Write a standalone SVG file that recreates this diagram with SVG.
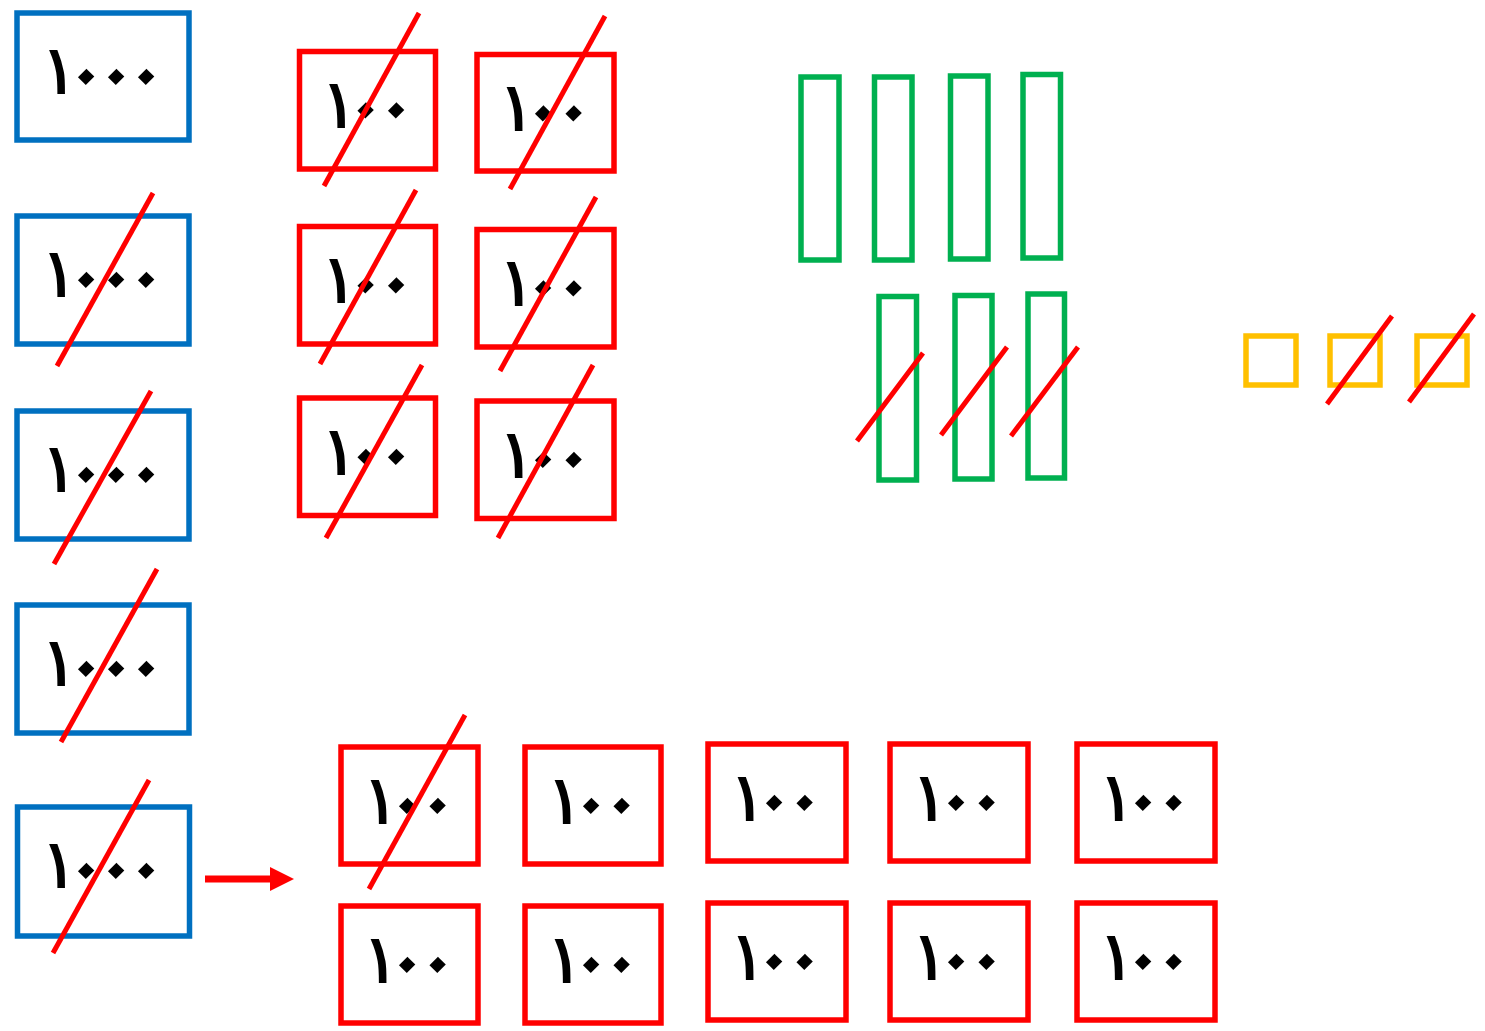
<svg xmlns="http://www.w3.org/2000/svg" width="1485" height="1031" viewBox="0 0 1485 1031">
<style>
.blue{fill:none;stroke:#0070C0;stroke-width:5.5}
.red{fill:none;stroke:#FF0000;stroke-width:5.5}
.green{fill:none;stroke:#00B050;stroke-width:5.5}
.yellow{fill:none;stroke:#FFC000;stroke-width:5.5}
.strike{stroke:#FF0000;stroke-width:5;fill:none}
.num{font-family:"DejaVu Sans",sans-serif;font-size:66px;fill:#000;stroke:#000;stroke-width:1.8;stroke-linejoin:miter}
.num tspan{stroke-width:4}
</style>
<rect width="1485" height="1031" fill="#fff"/>
<g id="thousands">
<g id="th1"><rect class="blue" x="17" y="13" width="172" height="127"/><text class="num" x="41.5 60.6 90.6 120.6" y="93 77.5 77.5 77.5" rotate="0 45 45 45">١<tspan>٠٠٠</tspan></text></g>
<g id="th2"><rect class="blue" x="17" y="216" width="172" height="128"/><text class="num" x="41.5 60.6 90.6 120.6" y="296 280.5 280.5 280.5" rotate="0 45 45 45">١<tspan>٠٠٠</tspan></text><line class="strike" x1="57" y1="366" x2="153" y2="193"/></g>
<g id="th3"><rect class="blue" x="17" y="411" width="172" height="128"/><text class="num" x="41.5 60.6 90.6 120.6" y="491 475.5 475.5 475.5" rotate="0 45 45 45">١<tspan>٠٠٠</tspan></text><line class="strike" x1="54" y1="564" x2="151" y2="391"/></g>
<g id="th4"><rect class="blue" x="17" y="605" width="172" height="128"/><text class="num" x="41.5 60.6 90.6 120.6" y="685 669.5 669.5 669.5" rotate="0 45 45 45">١<tspan>٠٠٠</tspan></text><line class="strike" x1="61" y1="742" x2="157" y2="569"/></g>
<g id="th5"><rect class="blue" x="17.5" y="807" width="172" height="129"/><text class="num" x="41.5 60.6 90.6 120.6" y="887 871.5 871.5 871.5" rotate="0 45 45 45">١<tspan>٠٠٠</tspan></text><line class="strike" x1="53" y1="953" x2="149" y2="780"/></g>
</g>
<g id="hundreds-top">
<g id="h1"><rect class="red" x="299.5" y="51.5" width="136" height="117.5"/><text class="num" x="321.5 340.1 370.6" y="127 111 111" rotate="0 45 45">١<tspan>٠٠</tspan></text><line class="strike" x1="324" y1="186" x2="419" y2="13"/></g>
<g id="h2"><rect class="red" x="477" y="54.5" width="137" height="116.5"/><text class="num" x="499 517.6 548.1" y="130 114 114" rotate="0 45 45">١<tspan>٠٠</tspan></text><line class="strike" x1="510" y1="189" x2="605" y2="16"/></g>
<g id="h3"><rect class="red" x="299.5" y="226.5" width="136" height="117.5"/><text class="num" x="321.5 340.1 370.6" y="302 286 286" rotate="0 45 45">١<tspan>٠٠</tspan></text><line class="strike" x1="320" y1="364" x2="416" y2="190"/></g>
<g id="h4"><rect class="red" x="477" y="229.5" width="137" height="117.5"/><text class="num" x="499 517.6 548.1" y="305 289 289" rotate="0 45 45">١<tspan>٠٠</tspan></text><line class="strike" x1="500" y1="371" x2="596" y2="197"/></g>
<g id="h5"><rect class="red" x="299.5" y="398" width="136" height="117.5"/><text class="num" x="321.5 340.1 370.6" y="473.5 457.5 457.5" rotate="0 45 45">١<tspan>٠٠</tspan></text><line class="strike" x1="326" y1="538" x2="422" y2="365"/></g>
<g id="h6"><rect class="red" x="477" y="401" width="137" height="117.5"/><text class="num" x="499 517.6 548.1" y="476.5 460.5 460.5" rotate="0 45 45">١<tspan>٠٠</tspan></text><line class="strike" x1="498" y1="538" x2="593" y2="365"/></g>
</g>
<g id="tens">
<g id="t1"><rect class="green" x="801" y="77" width="38" height="183"/></g>
<g id="t2"><rect class="green" x="874.5" y="77" width="37.5" height="183"/></g>
<g id="t3"><rect class="green" x="950.5" y="76" width="37.5" height="183"/></g>
<g id="t4"><rect class="green" x="1023" y="74.5" width="37.5" height="183.5"/></g>
<g id="t5"><rect class="green" x="879" y="296.5" width="37.5" height="183.5"/><line class="strike" x1="857" y1="441" x2="923" y2="353"/></g>
<g id="t6"><rect class="green" x="955" y="295.5" width="37" height="183.5"/><line class="strike" x1="941" y1="435" x2="1007" y2="347"/></g>
<g id="t7"><rect class="green" x="1028" y="294" width="36.5" height="184"/><line class="strike" x1="1011" y1="436" x2="1078" y2="347"/></g>
</g>
<g id="ones">
<g id="o1"><rect class="yellow" x="1246" y="336" width="50" height="49"/></g>
<g id="o2"><rect class="yellow" x="1330" y="336" width="50" height="49"/><line class="strike" x1="1327" y1="404" x2="1392" y2="316"/></g>
<g id="o3"><rect class="yellow" x="1417" y="336" width="50" height="49"/><line class="strike" x1="1409" y1="402" x2="1474" y2="314"/></g>
</g>
<g id="hundreds-bottom">
<g id="hb1"><rect class="red" x="341" y="747" width="137" height="117"/><text class="num" x="363 381.6 412.1" y="822.5 806.5 806.5" rotate="0 45 45">١<tspan>٠٠</tspan></text><line class="strike" x1="369" y1="889" x2="465" y2="715"/></g>
<g id="hb2"><rect class="red" x="525" y="747" width="136" height="117"/><text class="num" x="547 565.6 596.1" y="822.5 806.5 806.5" rotate="0 45 45">١<tspan>٠٠</tspan></text></g>
<g id="hb3"><rect class="red" x="708" y="744" width="138" height="117"/><text class="num" x="730 748.6 779.1" y="819.5 803.5 803.5" rotate="0 45 45">١<tspan>٠٠</tspan></text></g>
<g id="hb4"><rect class="red" x="890" y="744" width="138" height="117"/><text class="num" x="912 930.6 961.1" y="819.5 803.5 803.5" rotate="0 45 45">١<tspan>٠٠</tspan></text></g>
<g id="hb5"><rect class="red" x="1077" y="744" width="138" height="117"/><text class="num" x="1099 1117.6 1148.1" y="819.5 803.5 803.5" rotate="0 45 45">١<tspan>٠٠</tspan></text></g>
<g id="hb6"><rect class="red" x="341" y="906" width="137" height="117"/><text class="num" x="363 381.6 412.1" y="981.5 965.5 965.5" rotate="0 45 45">١<tspan>٠٠</tspan></text></g>
<g id="hb7"><rect class="red" x="525" y="906" width="136" height="117"/><text class="num" x="547 565.6 596.1" y="981.5 965.5 965.5" rotate="0 45 45">١<tspan>٠٠</tspan></text></g>
<g id="hb8"><rect class="red" x="708" y="903" width="138" height="117"/><text class="num" x="730 748.6 779.1" y="978.5 962.5 962.5" rotate="0 45 45">١<tspan>٠٠</tspan></text></g>
<g id="hb9"><rect class="red" x="890" y="903" width="138" height="117"/><text class="num" x="912 930.6 961.1" y="978.5 962.5 962.5" rotate="0 45 45">١<tspan>٠٠</tspan></text></g>
<g id="hb10"><rect class="red" x="1077" y="903" width="138" height="117"/><text class="num" x="1099 1117.6 1148.1" y="978.5 962.5 962.5" rotate="0 45 45">١<tspan>٠٠</tspan></text></g>
</g>
<g id="connectors">
<line x1="205" y1="879" x2="272" y2="879" stroke="#FF0000" stroke-width="7"/>
<polygon points="270,867 294,879 270,891" fill="#FF0000"/>
</g>
</svg>
